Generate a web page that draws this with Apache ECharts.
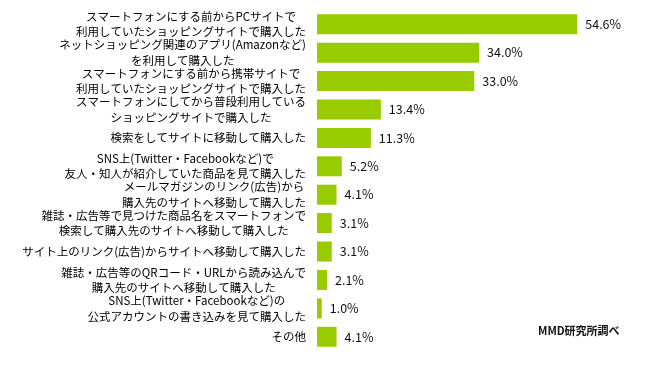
<!DOCTYPE html>
<html>
<head>
<meta charset="utf-8">
<script src="https://cdn.jsdelivr.net/npm/echarts@6/dist/echarts.min.js"></script>
<style>
html,body{margin:0;padding:0;background:#fff;}
#chart{width:655px;height:369px;}
</style>
</head>
<body>
<div id="chart"></div>
<script>
var categories = [
  "スマートフォンにする前からPCサイトで\n利用していたショッピングサイトで購入した",
  "ネットショッピング関連のアプリ(Amazonなど)\nを利用して購入した",
  "スマートフォンにする前から携帯サイトで\n利用していたショッピングサイトで購入した",
  "スマートフォンにしてから普段利用している\nショッピングサイトで購入した",
  "検索をしてサイトに移動して購入した",
  "SNS上(Twitter・Facebookなど)で\n友人・知人が紹介していた商品を見て購入した",
  "メールマガジンのリンク(広告)から\n購入先のサイトへ移動して購入した",
  "雑誌・広告等で見つけた商品名をスマートフォンで\n検索して購入先のサイトへ移動して購入した",
  "サイト上のリンク(広告)からサイトへ移動して購入した",
  "雑誌・広告等のQRコード・URLから読み込んで\n購入先のサイトへ移動して購入した",
  "SNS上(Twitter・Facebookなど)の\n公式アカウントの書き込みを見て購入した",
  "その他"
];
var values = [54.6, 34.0, 33.0, 13.4, 11.3, 5.2, 4.1, 3.1, 3.1, 2.1, 1.0, 4.1];
var sourceNote = "MMD研究所調べ";

var chart = echarts.init(document.getElementById('chart'));
chart.setOption({
  animation: false,
  backgroundColor: '#ffffff',
  grid: { left: 317, right: 52, top: 10, bottom: 18 },
  xAxis: { type: 'value', min: 0, max: 60, show: false },
  yAxis: {
    type: 'category',
    data: categories,
    inverse: true,
    axisLine: { show: false },
    axisTick: { show: false },
    axisLabel: {
      margin: 11,
      align: 'right',
      formatter: function (v) {
        return v.split('\n').map(function (l) { return '{c|' + l + '}'; }).join('\n');
      },
      rich: {
        c: {
          align: 'center',
          fontFamily: '"Noto Sans CJK JP", sans-serif',
          fontSize: 11.5,
          lineHeight: 15.5,
          color: '#000'
        }
      }
    }
  },
  series: [{
    type: 'bar',
    data: values,
    barWidth: 20,
    itemStyle: { color: '#99cc00' },
    label: {
      show: true,
      position: 'right',
      distance: 8,
      formatter: function (p) { return p.value.toFixed(1) + '%'; },
      fontFamily: '"Noto Sans CJK JP", sans-serif',
      fontSize: 12.5,
      color: '#111'
    }
  }],
  graphic: [{
    type: 'text',
    left: 538,
    top: 325,
    style: {
      text: sourceNote,
      fontFamily: '"Noto Sans CJK JP", sans-serif',
      fontSize: 11,
      fontWeight: 'bold',
      fill: '#111'
    }
  }]
});
</script>
</body>
</html>
